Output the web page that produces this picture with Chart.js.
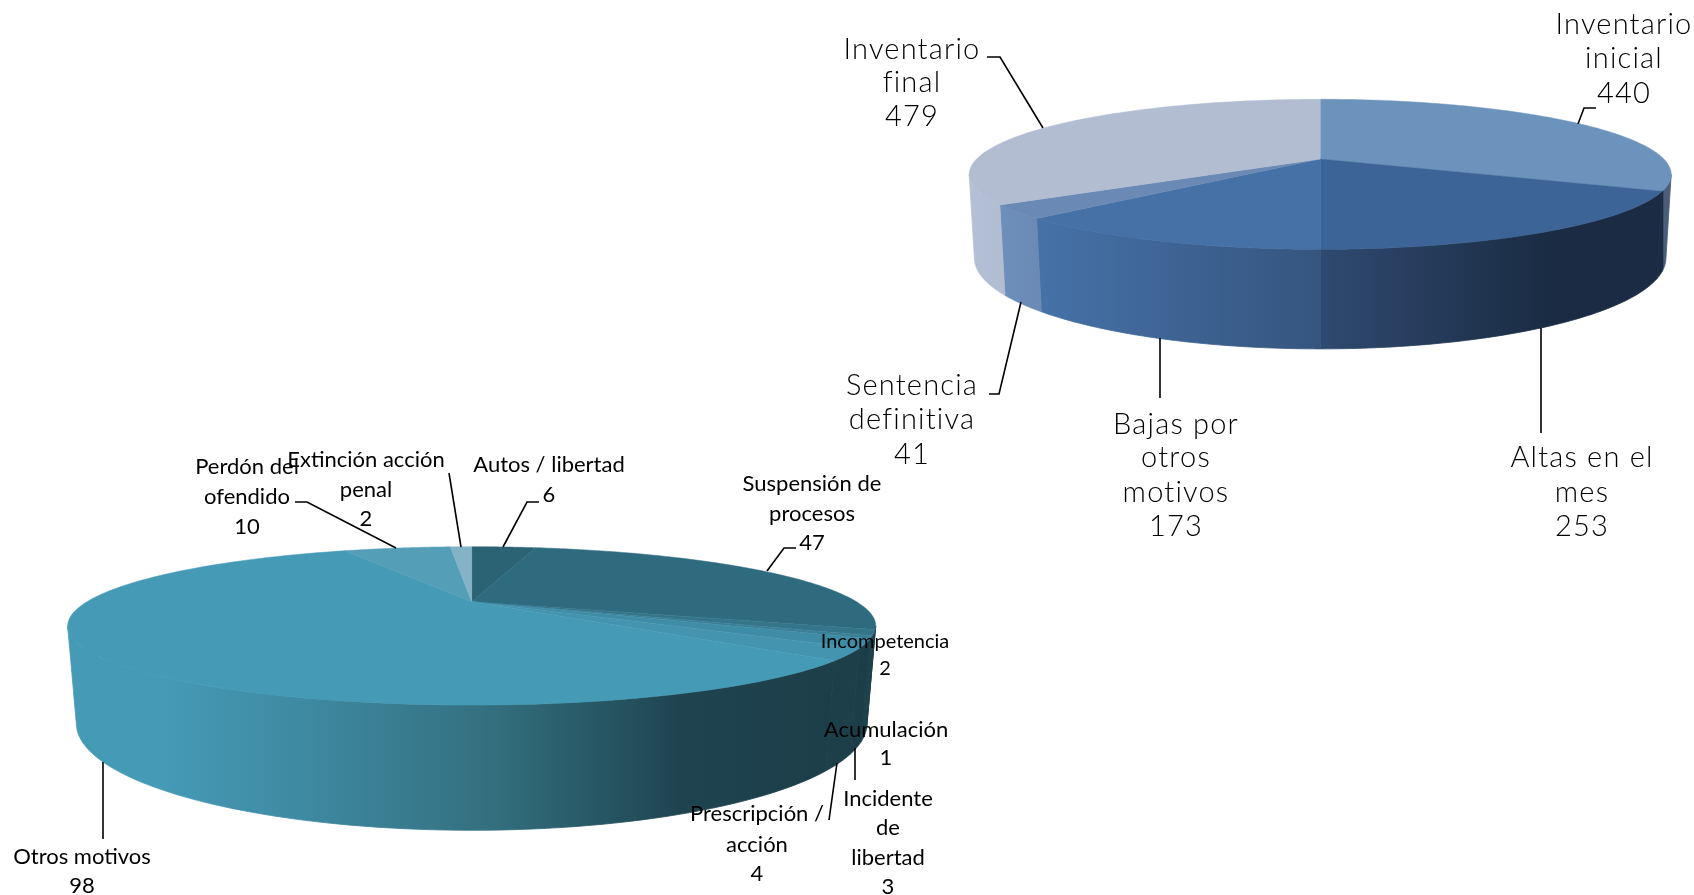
<!DOCTYPE html>
<html>
<head>
<meta charset="utf-8">
<style>
  html, body { margin: 0; background: #fff; overflow: hidden; }
  canvas { position: absolute; left: 0; top: 0; }
</style>
<script src="https://cdn.jsdelivr.net/npm/chart.js@4/dist/chart.umd.min.js"></script>
</head>
<body>
<canvas id="inventario" width="1694" height="895"></canvas>
<canvas id="motivos" width="1694" height="895"></canvas>
<script>
// inventario
const invCategories = ["Inventario inicial", "Altas en el mes", "Bajas por otros motivos", "Sentencia definitiva", "Inventario final"];
const invValues = [440, 253, 173, 41, 479];
const invTop = ["#6c93bc", "#3c6496", "#4671a6", "#6a8ab5", "#b2bdd2"];
const invWall = [
  [[0, "#1a2b43"], [0.4, "#1a2b43"], [0.5, "#4b5d78"], [1, "#4b5d78"]],
  [[0, "#2f4a70"], [0.68, "#1a2b43"], [1, "#1a2b43"]],
  [[0, "#4672a8"], [1, "#35557f"]],
  [[0, "#6e8fbb"], [1, "#6a8ab5"]],
  [[0, "#b4c0d6"], [1, "#b2bdd2"]]
];
const invLines = [["Inventario", "inicial", "440"], ["Altas en el", "mes", "253"], ["Bajas por", "otros", "motivos", "173"], ["Sentencia", "definitiva", "41"], ["Inventario", "final", "479"]];
const invLabelX = [1624, 1582, 1176, 912, 912];
const invLabelY = [[25, 59, 94], [458, 493, 527], [425, 458, 493, 527], [386, 420, 455], [50, 83, 117]];
const invLabelSize = [29, 29, 29, 29, 29];
const invLeaders = [
  [[1596, 108], [1584, 108], [1578, 124]],
  [[1541, 328], [1541, 433]],
  [[1160, 338], [1160, 398]],
  [[989, 394], [999, 394], [1021, 302]],
  [[987, 57], [1000, 57], [1043, 128]]
];

// motivos
const motCategories = ["Autos / libertad", "Suspensión de procesos", "Incompetencia", "Acumulación", "Incidente de libertad", "Prescripción / acción", "Otros motivos", "Perdón del ofendido", "Extinción acción penal"];
const motValues = [6, 47, 2, 1, 3, 4, 98, 10, 2];
const motTop = ["#2b6274", "#2e6b7e", "#35758a", "#3a7f96", "#3f8ca6", "#4494b0", "#459ab6", "#549eb8", "#84b3c7"];
const motWall = [
  [[0, "#1d3f4a"], [1, "#1d3f4a"]],
  [[0, "#1c3d48"], [1, "#1c3d48"]],
  [[0, "#1d3f4a"], [1, "#1d3f4a"]],
  [[0, "#1d404b"], [1, "#1d404b"]],
  [[0, "#1c3e49"], [1, "#1c3e49"]],
  [[0, "#1d3f4a"], [1, "#1d3f4a"]],
  [[0, "#459ab6"], [0.12, "#459ab6"], [0.3, "#3f8aa3"], [0.55, "#33707f"], [0.8, "#1f4450"], [1, "#1c3e49"]],
  [[0, "#549eb8"], [1, "#549eb8"]],
  [[0, "#84b3c7"], [1, "#84b3c7"]]
];
const motLines = [["Autos / libertad", "6"], ["Suspensión de", "procesos", "47"], ["Incompetencia", "2"], ["Acumulación", "1"], ["Incidente", "de", "libertad", "3"], ["Prescripción /", "acción", "4"], ["Otros motivos", "98"], ["Perdón del", "ofendido", "10"], ["Extinción acción", "penal", "2"]];
const motLabelX = [549, 812, 885, 886, 888, 757, 82, 247, 366];
const motLabelY = [[465, 495], [484, 514, 543], [642, 669], [730, 758], [799, 828, 858, 887], [814, 845, 874], [857, 886], [467, 497, 527], [460, 490, 519]];
const motLabelSize = [22, 22, 20, 22, 22, 22, 22, 22, 22];
const motLeaders = [
  [[539, 502], [527, 502], [503, 547]],
  [[796, 548], [784, 548], [767, 571]],
  [],
  [],
  [[855, 748], [855, 780]],
  [[837, 763], [829, 820]],
  [[103, 762], [103, 839]],
  [[295, 502], [307, 502], [396, 548]],
  [[449, 473], [461, 547]]
];

// project angle on the disc, h=0 top face, h=1 bottom rim
function project(g, a, h) {
  const c = Math.cos(a), s = Math.sin(a);
  const w = 1 - g.p * s + g.q * h;
  return [g.x0 + g.R * c / w, g.y0 + (g.K * s + g.H * h) / w];
}

function tracePath(ctx, pts) {
  ctx.beginPath();
  pts.forEach((pt, i) => i ? ctx.lineTo(pt[0], pt[1]) : ctx.moveTo(pt[0], pt[1]));
  ctx.closePath();
}

const pie3d = {
  id: "pie3d",
  beforeDatasetsDraw(chart, args, g) {
    const ctx = chart.ctx;
    const arcs = chart.getDatasetMeta(0).data;
    const visA = Math.asin(g.p), visB = Math.PI - visA;
    ctx.save();

    // side walls
    arcs.forEach((arc, i) => {
      const from = Math.max(arc.startAngle, visA), to = Math.min(arc.endAngle, visB);
      if (to <= from) return;
      const upper = [], lower = [];
      for (let n = 0; n <= 80; n++) {
        const a = from + (to - from) * n / 80;
        upper.push(project(g, a, 0));
        lower.push(project(g, a, 1));
      }
      const xs = upper.concat(lower).map(pt => pt[0]);
      const grad = ctx.createLinearGradient(Math.min(...xs), 0, Math.max(...xs), 0);
      g.wall[i].forEach(st => grad.addColorStop(st[0], st[1]));
      tracePath(ctx, upper.concat(lower.reverse()));
      ctx.fillStyle = grad;
      ctx.strokeStyle = grad;
      ctx.lineWidth = 0.8;
      ctx.fill();
      ctx.stroke();
    });

    // top face
    arcs.forEach((arc, i) => {
      const pts = [[g.x0, g.y0]];
      for (let n = 0; n <= 120; n++) {
        pts.push(project(g, arc.startAngle + (arc.endAngle - arc.startAngle) * n / 120, 0));
      }
      tracePath(ctx, pts);
      ctx.fillStyle = chart.data.datasets[0].backgroundColor[i];
      ctx.strokeStyle = ctx.fillStyle;
      ctx.lineWidth = 0.5;
      ctx.fill();
      ctx.stroke();
    });

    // leader lines
    ctx.strokeStyle = "#000";
    ctx.lineWidth = 1.6;
    g.leaders.forEach(l => {
      if (!l.length) return;
      ctx.beginPath();
      l.forEach((pt, i) => i ? ctx.lineTo(pt[0], pt[1]) : ctx.moveTo(pt[0], pt[1]));
      ctx.stroke();
    });

    // labels
    ctx.fillStyle = "#000";
    ctx.textAlign = "center";
    ctx.textBaseline = "middle";
    if ("letterSpacing" in ctx) ctx.letterSpacing = g.spacing;
    g.lines.forEach((rows, i) => {
      ctx.font = g.weight + " " + g.sizes[i] + "px Lato";
      rows.forEach((t, r) => ctx.fillText(t, g.labelX[i], g.labelY[i][r]));
    });
    ctx.restore();
    return false;
  }
};

function makePie(id, categories, values, colors, geom) {
  return new Chart(document.getElementById(id), {
    type: "pie",
    data: { labels: categories, datasets: [{ data: values, backgroundColor: colors, borderWidth: 0 }] },
    options: {
      responsive: false,
      animation: false,
      plugins: { legend: { display: false }, tooltip: { enabled: false }, pie3d: geom }
    },
    plugins: [pie3d]
  });
}

makePie("inventario", invCategories, invValues, invTop, {
  x0: 1320.2, y0: 159, R: 343.6, K: 71.9, p: 0.204, H: 82, q: 0.0145,
  wall: invWall, lines: invLines, labelX: invLabelX, labelY: invLabelY, leaders: invLeaders,
  sizes: invLabelSize, weight: 300, spacing: "1.2px"
});

makePie("motivos", motCategories, motValues, motTop, {
  x0: 471.7, y0: 601.7, R: 384.7, K: 71.8, p: 0.3056, H: 91.5, q: 0.02,
  wall: motWall, lines: motLines, labelX: motLabelX, labelY: motLabelY, leaders: motLeaders,
  sizes: motLabelSize, weight: 400, spacing: "0px"
});
</script>
</body>
</html>
